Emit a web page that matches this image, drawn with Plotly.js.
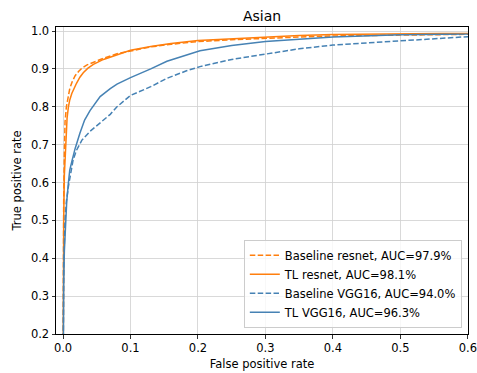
<!DOCTYPE html>
<html><head><meta charset="utf-8">
<script src="https://cdn.plot.ly/plotly-3.0.1.min.js"></script>
<style>html,body{margin:0;padding:0;background:#fff}#chart{width:477px;height:373px}</style>
</head><body><div id="chart"></div>
<script>
const baseResnetFpr = [0, 0, 0.001, 0.002, 0.003, 0.005, 0.008, 0.010, 0.014, 0.018, 0.023, 0.028, 0.035, 0.045, 0.06, 0.08, 0.1, 0.13, 0.16, 0.2, 0.25, 0.3, 0.35, 0.4, 0.5, 0.6, 1];
const baseResnetTpr = [0, 0.3, 0.55, 0.68, 0.76, 0.80, 0.835, 0.848, 0.868, 0.882, 0.893, 0.902, 0.910, 0.918, 0.928, 0.940, 0.948, 0.958, 0.965, 0.972, 0.977, 0.981, 0.984, 0.987, 0.990, 0.992, 1];

const tlResnetFpr = [0, 0, 0.001, 0.002, 0.004, 0.006, 0.008, 0.010, 0.013, 0.017, 0.020, 0.025, 0.030, 0.037, 0.045, 0.06, 0.08, 0.1, 0.13, 0.16, 0.2, 0.25, 0.3, 0.35, 0.4, 0.5, 0.6, 1];
const tlResnetTpr = [0, 0.3, 0.5, 0.62, 0.72, 0.77, 0.80, 0.818, 0.835, 0.852, 0.862, 0.878, 0.890, 0.902, 0.912, 0.925, 0.938, 0.949, 0.959, 0.967, 0.975, 0.980, 0.985, 0.988, 0.991, 0.994, 0.996, 1];

const baseVggFpr = [0, 0, 0.001, 0.003, 0.005, 0.008, 0.011, 0.015, 0.02, 0.028, 0.04, 0.055, 0.07, 0.08, 0.1, 0.13, 0.154, 0.183, 0.203, 0.25, 0.3, 0.35, 0.4, 0.45, 0.5, 0.55, 0.6, 1];
const baseVggTpr = [0, 0.2, 0.38, 0.50, 0.55, 0.59, 0.625, 0.66, 0.685, 0.712, 0.735, 0.757, 0.78, 0.80, 0.83, 0.853, 0.875, 0.895, 0.906, 0.925, 0.94, 0.953, 0.963, 0.968, 0.975, 0.98, 0.985, 1];

const tlVggFpr = [0, 0, 0.001, 0.002, 0.004, 0.0055, 0.008, 0.010, 0.013, 0.018, 0.025, 0.032, 0.04, 0.055, 0.07, 0.08, 0.1, 0.115, 0.13, 0.154, 0.18, 0.203, 0.25, 0.3, 0.35, 0.4, 0.5, 0.6, 1];
const tlVggTpr = [0, 0.2, 0.33, 0.42, 0.5, 0.55, 0.60, 0.633, 0.655, 0.69, 0.73, 0.765, 0.79, 0.827, 0.848, 0.86, 0.877, 0.888, 0.9, 0.92, 0.935, 0.948, 0.962, 0.972, 0.978, 0.984, 0.99, 0.993, 1];

const xTicks = [0, 0.1, 0.2, 0.3, 0.4, 0.5, 0.6];
const yTicks = [0.2, 0.3, 0.4, 0.5, 0.6, 0.7, 0.8, 0.9, 1.0];

const names = ['Baseline resnet, AUC=97.9%', 'TL resnet, AUC=98.1%', 'Baseline VGG16, AUC=94.0%', 'TL VGG16, AUC=96.3%'];
const orange = '#ff7f0e', blue = '#4682b4';
const dashed = '5.5px,2.4px';

const traces = [
  {x: baseResnetFpr, y: baseResnetTpr, name: names[0], line: {color: orange, dash: dashed, width: 1.5}},
  {x: tlResnetFpr, y: tlResnetTpr, name: names[1], line: {color: orange, width: 1.5}},
  {x: baseVggFpr, y: baseVggTpr, name: names[2], line: {color: blue, dash: dashed, width: 1.5}},
  {x: tlVggFpr, y: tlVggTpr, name: names[3], line: {color: blue, width: 1.5}}
].map(t => Object.assign({type: 'scatter', mode: 'lines'}, t));

const axisCommon = {
  showline: true, mirror: true, linecolor: '#000', linewidth: 1,
  ticks: 'outside', ticklen: 3.5, tickcolor: '#000', tickwidth: 0.8,
  showgrid: true, gridcolor: '#d0d0d0', gridwidth: 0.8, zeroline: false,
  tickmode: 'array', tickformat: '.1f', tickfont: {size: 11.5, color: '#000'},
  ticklabeloverflow: 'allow'
};

const layout = {
  width: 477, height: 373,
  margin: {l: 56, r: 9, t: 27, b: 39},
  paper_bgcolor: '#fff', plot_bgcolor: '#fff',
  font: {family: 'DejaVu Sans', color: '#000'},
  title: {text: 'Asian', font: {size: 14}, x: 0.5, xref: 'paper', xanchor: 'center', y: 0.957, yanchor: 'middle', yref: 'container'},
  xaxis: Object.assign({}, axisCommon, {range: [-0.0104, 0.6002], tickvals: xTicks,
    title: {text: 'False positive rate', font: {size: 11.5}, standoff: 5}}),
  yaxis: Object.assign({}, axisCommon, {range: [0.2, 1.0106], tickvals: yTicks,
    title: {text: 'True positive rate', font: {size: 11.5}, standoff: 6}}),
  legend: {x: 0.985, y: 0.02, xanchor: 'right', yanchor: 'bottom',
    bgcolor: 'rgba(255,255,255,0.8)', bordercolor: '#cccccc', borderwidth: 1,
    font: {size: 11.5}, tracegroupgap: 0, itemwidth: 30},
  showlegend: true
};

Plotly.newPlot('chart', traces, layout, {staticPlot: true, displayModeBar: false});
</script></body></html>
